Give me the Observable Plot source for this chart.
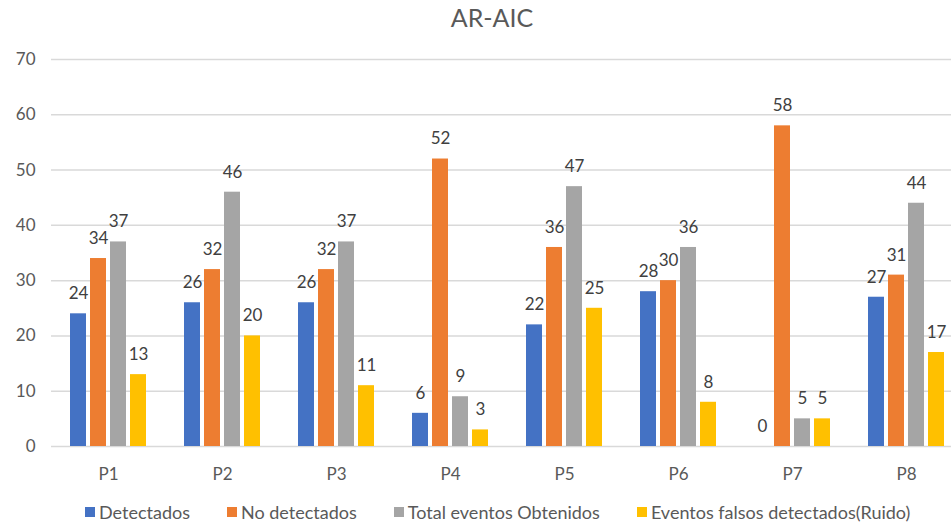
<!DOCTYPE html>
<html>
<head>
<meta charset="utf-8">
<script src="https://cdn.jsdelivr.net/npm/d3@7"></script>
<script src="https://cdn.jsdelivr.net/npm/@observablehq/plot@0.6"></script>
<style>
  body { margin: 0; background: #fff; font-family: Lato, "Open Sans", sans-serif; }
  #wrap { width: 951px; height: 527px; overflow: hidden; position: relative; }
  #title { height: 45px; line-height: 34px; font-size: 25px; color: #595959; text-align: center; padding-left: 33px; box-sizing: border-box; }
  #legend { height: 46px; display: flex; align-items: center; padding-left: 85px; gap: 37px; font-size: 18px; color: #595959; white-space: nowrap; margin-top: -1px; }
  .item { display: flex; align-items: center; gap: 4px; }
  .sw { width: 10px; height: 10px; display: inline-block; }
  svg { display: block; }
</style>
</head>
<body>
<div id="wrap">
  <div id="title">AR-AIC</div>
  <div id="chart"></div>
  <div id="legend"></div>
</div>
<script>
const categories = ["P1", "P2", "P3", "P4", "P5", "P6", "P7", "P8"];
const seriesNames = ["Detectados", "No detectados", "Total eventos Obtenidos", "Eventos falsos detectados(Ruido)"];
const detectados = [24, 26, 26, 6, 22, 28, 0, 27];
const noDetectados = [34, 32, 32, 52, 36, 30, 58, 31];
const totalObtenidos = [37, 46, 37, 9, 47, 36, 5, 44];
const falsosRuido = [13, 20, 11, 3, 25, 8, 5, 17];
const yTicks = [0, 10, 20, 30, 40, 50, 60, 70];
const colors = ["#4472C4", "#ED7D31", "#A5A5A5", "#FFC000"];

const seriesValues = [detectados, noDetectados, totalObtenidos, falsosRuido];
const data = [];
categories.forEach((c, i) => {
  seriesNames.forEach((s, j) => {
    data.push({cat: c, series: s, value: seriesValues[j][i]});
  });
});

const chart = Plot.plot({
  width: 951,
  height: 445,
  marginLeft: 49,
  marginRight: -14,
  marginTop: 14,
  marginBottom: 44,
  style: {fontFamily: "Lato, sans-serif", fontSize: "17px", color: "#595959", background: "white"},
  fx: {domain: categories, padding: 0, label: null, tickSize: 0, tickPadding: 21},
  x: {domain: seriesNames, paddingInner: 0.2, paddingOuter: 0.867, axis: null},
  y: {domain: [0, 70], ticks: yTicks, tickSize: 0, tickPadding: 16, label: null, tickFormat: d => String(d)},
  color: {domain: seriesNames, range: colors},
  marks: [
    Plot.ruleY(yTicks, {stroke: "#d9d9d9", strokeWidth: 1.5}),
    Plot.barY(data, {fx: "cat", x: "series", y: "value", fill: "series"}),
    Plot.text(data, {fx: "cat", x: "series", y: "value", text: d => String(d.value), dy: -20, fill: "#404040", fontSize: 17})
  ]
});
document.getElementById("chart").appendChild(chart);

const legend = document.getElementById("legend");
seriesNames.forEach((s, j) => {
  const item = document.createElement("div");
  item.className = "item";
  const sw = document.createElement("span");
  sw.className = "sw";
  sw.style.background = colors[j];
  const t = document.createElement("span");
  t.textContent = s;
  item.appendChild(sw);
  item.appendChild(t);
  legend.appendChild(item);
});
</script>
</body>
</html>
